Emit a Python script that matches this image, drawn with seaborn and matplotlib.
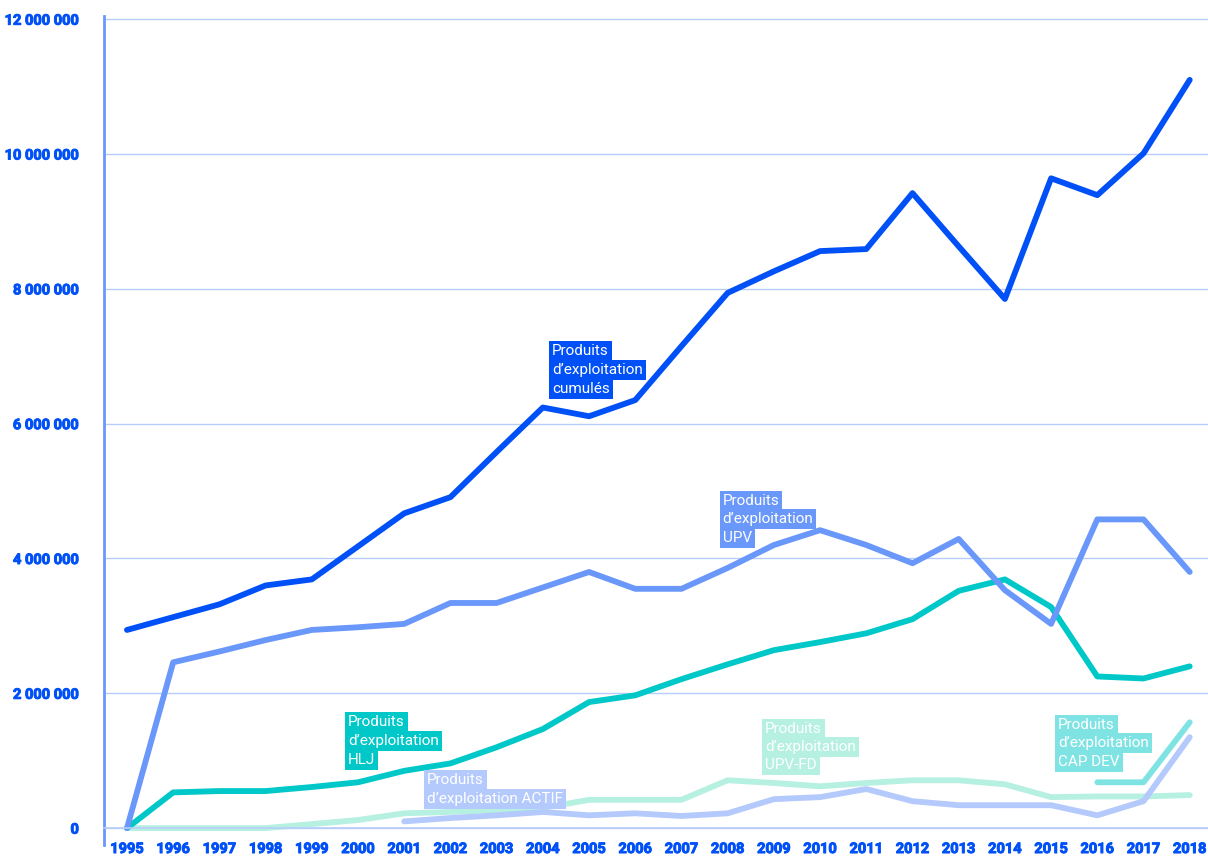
import matplotlib
matplotlib.use("Agg")
import matplotlib.pyplot as plt
import matplotlib.ticker as mticker
import matplotlib.patheffects as pe
import numpy as np
import seaborn as sns

# --- données ---
annees = list(range(1995, 2019))

cumules = [2.94e6, 3.13e6, 3.32e6, 3.60e6, 3.69e6, 4.18e6, 4.67e6, 4.91e6, 5.58e6, 6.24e6,
           6.11e6, 6.35e6, 7.15e6, 7.94e6, 8.26e6, 8.56e6, 8.59e6, 9.42e6, 8.63e6, 7.85e6,
           9.64e6, 9.39e6, 10.01e6, 11.1e6]
upv = [0, 2.46e6, 2.62e6, 2.79e6, 2.94e6, 2.98e6, 3.03e6, 3.34e6, 3.34e6, 3.57e6,
       3.80e6, 3.55e6, 3.55e6, 3.86e6, 4.20e6, 4.42e6, 4.20e6, 3.93e6, 4.29e6, 3.53e6,
       3.03e6, 4.58e6, 4.58e6, 3.80e6]
hlj = [0, 0.53e6, 0.55e6, 0.55e6, 0.61e6, 0.68e6, 0.85e6, 0.96e6, 1.20e6, 1.47e6,
       1.87e6, 1.97e6, 2.21e6, 2.43e6, 2.64e6, 2.76e6, 2.89e6, 3.10e6, 3.52e6, 3.69e6,
       3.28e6, 2.25e6, 2.22e6, 2.40e6]
upv_fd = [0, 0, 0, 0, 0.06e6, 0.12e6, 0.22e6, 0.24e6, 0.27e6, 0.30e6,
          0.42e6, 0.42e6, 0.42e6, 0.71e6, 0.67e6, 0.62e6, 0.67e6, 0.71e6, 0.71e6, 0.65e6,
          0.46e6, 0.47e6, 0.47e6, 0.49e6]
actif_annees = list(range(2001, 2019))
actif = [0.10e6, 0.15e6, 0.19e6, 0.24e6, 0.19e6, 0.22e6, 0.18e6, 0.22e6, 0.43e6, 0.46e6,
         0.58e6, 0.40e6, 0.34e6, 0.34e6, 0.34e6, 0.19e6, 0.40e6, 1.35e6]
cap_annees = [2016, 2017, 2018]
cap_dev = [0.68e6, 0.68e6, 1.57e6]

# couleurs
BLEU = "#0050F8"
BLEU_UPV = "#6A97FA"
TEAL = "#00C8C8"
MENTHE = "#B5F0E0"
LAVANDE = "#B4C9FC"
CYAN = "#80E3E3"
GRILLE = "#B7CCFA"

sns.set_theme(style="white")
plt.rcParams['font.family'] = ['Roboto', 'DejaVu Sans']

fig = plt.figure(figsize=(12.08, 8.61), dpi=100)
ax = fig.add_axes([0.086, 0.0186, 0.918, 0.963])

series = [
    (annees, upv_fd, MENTHE),
    (actif_annees, actif, LAVANDE),
    (cap_annees, cap_dev, CYAN),
    (annees, hlj, TEAL),
    (annees, upv, BLEU_UPV),
    (annees, cumules, BLEU),
]
for x, y, c in series:
    sns.lineplot(x=x, y=y, ax=ax, color=c, linewidth=4.2,
                 solid_capstyle="round", solid_joinstyle="round")

# --- axes ---
ax.set_xlim(1994.5, 2018.5)
ax.set_ylim(-0.25e6, 12.05e6)
ax.set_xticks(annees)
ax.set_xticks(np.arange(1995.5, 2018.6, 1), minor=True)
ax.set_yticks(np.arange(0, 12.1e6, 2e6))
ax.yaxis.set_major_formatter(mticker.FuncFormatter(lambda v, p: f"{int(v):,}".replace(",", " ")))

ax.grid(axis="y", color=GRILLE, linewidth=1)
ax.set_axisbelow(True)
for s in ["top", "right"]:
    ax.spines[s].set_visible(False)
ax.spines["bottom"].set_position(("data", 0))
ax.spines["bottom"].set_color(GRILLE)
ax.spines["bottom"].set_linewidth(1.2)
ax.spines["left"].set_color(BLEU_UPV)
ax.spines["left"].set_linewidth(2)

ax.tick_params(axis="y", which="major", length=6, color=GRILLE, width=1,
               labelsize=10.5, labelcolor=BLEU, pad=12)
ax.tick_params(axis="x", which="major", length=0, labelsize=10.5, labelcolor=BLEU, pad=10)
ax.tick_params(axis="x", which="minor", length=7, color=GRILLE, width=1, direction="out")
gras = [pe.withStroke(linewidth=0.7, foreground=BLEU)]
for lab in ax.get_xticklabels() + ax.get_yticklabels():
    lab.set_fontweight("bold")
    lab.set_path_effects(gras)
ax.set_xlabel("")
ax.set_ylabel("")

# --- étiquettes ---
etiquettes = [
    (2004.2, [7.08e6, 6.79e6, 6.51e6], ["Produits", "d’exploitation", "cumulés"], BLEU),
    (2007.89, [4.85e6, 4.58e6, 4.30e6], ["Produits", "d’exploitation", "UPV"], BLEU_UPV),
    (1999.78, [1.57e6, 1.29e6, 1.01e6], ["Produits", "d’exploitation", "HLJ"], TEAL),
    (2001.49, [0.71e6, 0.43e6], ["Produits", "d’exploitation ACTIF"], LAVANDE),
    (2008.81, [1.47e6, 1.20e6, 0.93e6], ["Produits", "d’exploitation", "UPV-FD"], MENTHE),
    (2015.15, [1.53e6, 1.26e6, 0.98e6], ["Produits", "d’exploitation", "CAP DEV"], CYAN),
]
for x, ys, lignes, c in etiquettes:
    for y, t in zip(ys, lignes):
        ax.text(x, y, t, color="white", fontsize=11, va="center", ha="left", zorder=10,
                bbox=dict(boxstyle="square,pad=0.2", facecolor=c, edgecolor="none"))

fig.savefig("out.png", dpi=100)
